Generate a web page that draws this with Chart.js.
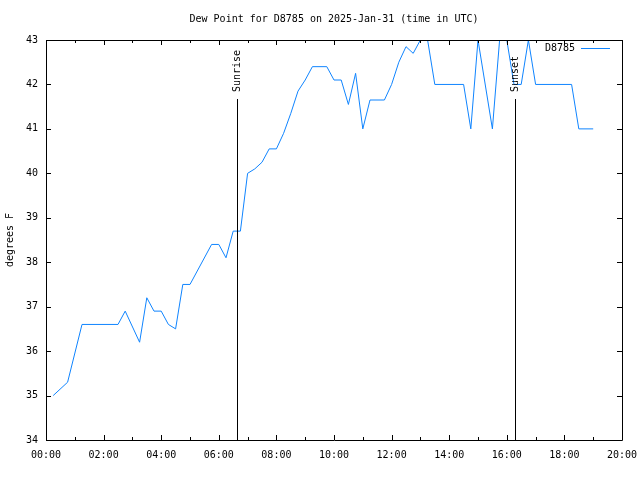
<!DOCTYPE html>
<html lang="en">
<head>
    <meta charset="UTF-8">
    <title>Dew Point D8785</title>
    <script src="https://cdn.jsdelivr.net/npm/chart.js"></script>
    <style>
        body { margin: 0; background-color: #fff; }
        canvas { display: block; }
    </style>
</head>
<body>
<canvas id="dewChart" width="640" height="480"></canvas>

<script>
    // observation times (UTC) and dew point readings (deg F)
    const obsTimes = ['00:15', '00:45', '01:15', '02:30', '02:45', '03:15', '03:30', '03:45', '04:00', '04:15',
        '04:30', '04:45', '05:00', '05:45', '06:00', '06:15', '06:30', '06:45', '07:00', '07:15',
        '07:30', '07:45', '08:00', '08:15', '08:30', '08:45', '09:00', '09:15', '09:45', '10:00',
        '10:15', '10:30', '10:45', '11:00', '11:15', '11:45', '12:00', '12:15', '12:30', '12:45',
        '13:00', '13:15', '13:30', '14:30', '14:45', '15:00', '15:30', '15:45', '16:00', '16:15',
        '16:30', '16:45', '17:00', '18:15', '18:30', '19:00'];
    const dewPoints = [35.0, 35.3, 36.6, 36.6, 36.9, 36.2, 37.2, 36.9, 36.9, 36.6,
        36.5, 37.5, 37.5, 38.4, 38.4, 38.1, 38.7, 38.7, 40.0, 40.1,
        40.25, 40.55, 40.55, 40.9, 41.35, 41.85, 42.1, 42.4, 42.4, 42.1,
        42.1, 41.55, 42.25, 41.0, 41.65, 41.65, 42.0, 42.5, 42.85, 42.7,
        43.0, 43.0, 42.0, 42.0, 41.0, 43.0, 41.0, 43.0, 43.0, 42.0,
        42.0, 43.0, 42.0, 42.0, 41.0, 41.0];
    const stationLabel = 'D8785';
    const sunEvents = [['Sunrise', '06:38'], ['Sunset', '16:17']];
    const yTicks = [34, 35, 36, 37, 38, 39, 40, 41, 42, 43];
    const xHourTicks = [0, 2, 4, 6, 8, 10, 12, 14, 16, 18, 20];

    const FONT = '10px "DejaVu Sans Mono", monospace';
    const LINE_COLOR = '#0f84ff';

    function toHours(t) {
        const p = t.split(':');
        return parseInt(p[0], 10) + parseInt(p[1], 10) / 60;
    }

    const points = obsTimes.map((t, i) => ({ x: toHours(t), y: dewPoints[i] }));

    // gnuplot-ish frame, inward ticks, sun markers, legend and titles
    const framePlugin = {
        id: 'frame',
        afterDraw(chart) {
            const c = chart.ctx;
            const a = chart.chartArea;
            const xs = chart.scales.x, ys = chart.scales.y;
            c.save();
            c.strokeStyle = '#000';
            c.lineWidth = 1;
            c.beginPath();
            c.rect(a.left + 0.5, a.top + 0.5, a.right - a.left, a.bottom - a.top);
            c.stroke();

            c.beginPath();
            // y ticks, mirrored on the right
            yTicks.forEach(v => {
                const y = Math.round(ys.getPixelForValue(v)) + 0.5;
                c.moveTo(a.left, y); c.lineTo(a.left + 5, y);
                c.moveTo(a.right, y); c.lineTo(a.right - 5, y);
            });
            // x ticks every hour, mirrored on top
            for (let h = 0; h <= 20; h++) {
                const x = Math.round(xs.getPixelForValue(h)) + 0.5;
                const len = h % 2 === 0 ? 5 : 3;
                c.moveTo(x, a.bottom); c.lineTo(x, a.bottom - len);
                c.moveTo(x, a.top); c.lineTo(x, a.top + len);
            }
            c.stroke();

            // sunrise / sunset lines with rotated labels
            c.font = FONT;
            c.fillStyle = '#000';
            sunEvents.forEach(ev => {
                const x = Math.round(xs.getPixelForValue(toHours(ev[1]))) + 0.5;
                c.beginPath();
                c.moveTo(x, a.bottom);
                c.lineTo(x, 99);
                c.stroke();
                c.save();
                c.translate(x, 92);
                c.rotate(-Math.PI / 2);
                c.textAlign = 'left';
                c.textBaseline = 'middle';
                c.fillText(ev[0], 0, 0);
                c.restore();
            });

            // legend
            c.textAlign = 'right';
            c.textBaseline = 'middle';
            c.fillText(stationLabel, 575, 48);
            c.strokeStyle = LINE_COLOR;
            c.beginPath();
            c.moveTo(581, 48.5);
            c.lineTo(610, 48.5);
            c.stroke();

            // title
            c.fillStyle = '#000';
            c.textAlign = 'center';
            c.fillText('Dew Point for D8785 on 2025-Jan-31 (time in UTC)', (a.left + a.right) / 2, 19);

            // y axis title
            c.save();
            c.translate(10, 240);
            c.rotate(-Math.PI / 2);
            c.textAlign = 'center';
            c.textBaseline = 'middle';
            c.fillText('degrees F', 0, 0);
            c.restore();
            c.restore();
        }
    };

    const ctx = document.getElementById('dewChart').getContext('2d');
    const dewChart = new Chart(ctx, {
        type: 'line',
        data: {
            datasets: [{
                label: stationLabel,
                data: points,
                borderColor: LINE_COLOR,
                borderWidth: 1,
                pointRadius: 0,
                tension: 0,
                fill: false
            }]
        },
        options: {
            responsive: false,
            animation: false,
            layout: { padding: { top: 40, right: 18, left: 0, bottom: 0 } },
            plugins: {
                legend: { display: false },
                title: { display: false },
                tooltip: { enabled: false }
            },
            scales: {
                x: {
                    type: 'linear',
                    min: 0,
                    max: 20,
                    grid: { display: false, drawTicks: false },
                    border: { display: false },
                    afterBuildTicks: s => { s.ticks = xHourTicks.map(v => ({ value: v })); },
                    afterFit: s => { s.height = 40; s.paddingLeft = 0; s.paddingRight = 0; },
                    ticks: {
                        padding: 9,
                        color: '#000',
                        font: { family: '"DejaVu Sans Mono", monospace', size: 10 },
                        maxRotation: 0,
                        callback: v => String(v).padStart(2, '0') + ':00'
                    }
                },
                y: {
                    min: 34,
                    max: 43,
                    grid: { display: false, drawTicks: false },
                    border: { display: false },
                    afterBuildTicks: s => { s.ticks = yTicks.map(v => ({ value: v })); },
                    afterFit: s => { s.width = 46; s.paddingTop = 0; s.paddingBottom = 0; },
                    ticks: {
                        padding: 8,
                        color: '#000',
                        font: { family: '"DejaVu Sans Mono", monospace', size: 10 }
                    }
                }
            }
        },
        plugins: [framePlugin]
    });
</script>
</body>
</html>
